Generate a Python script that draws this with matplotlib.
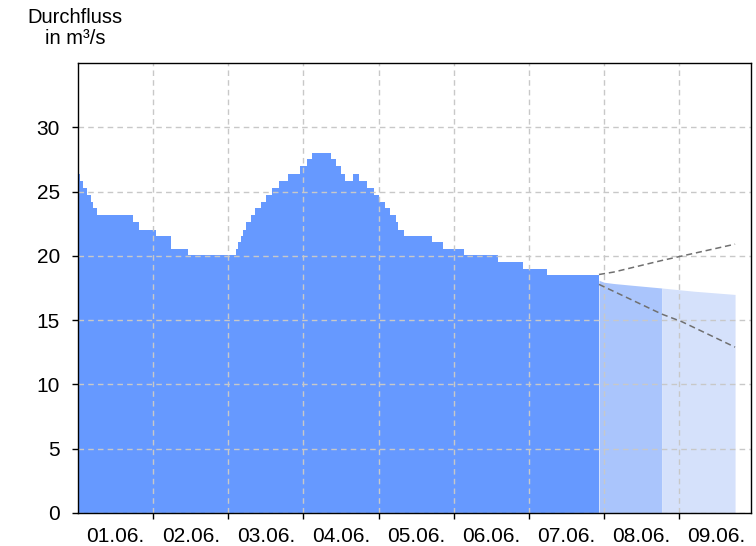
import numpy as np
import matplotlib
matplotlib.use("Agg")
import matplotlib.pyplot as plt

plt.rcParams["font.family"] = ["Liberation Sans", "DejaVu Sans"]

# observed discharge (m³/s), step series; time in days since 01.06. 00:00
obs_t = [0.0, 0.027, 0.07, 0.124, 0.169, 0.204, 0.249, 0.736, 0.81, 1.04,
         1.238, 1.464, 2.103, 2.133, 2.169, 2.20, 2.236, 2.298, 2.356, 2.431,
         2.498, 2.578, 2.68, 2.80, 2.954, 3.052, 3.118, 3.363, 3.434, 3.496,
         3.553, 3.656, 3.744, 3.85, 3.939, 4.01, 4.086, 4.152, 4.232, 4.263,
         4.343, 4.707, 4.854, 5.141, 5.585, 5.918, 6.238, 6.934]
obs_q = [26.4, 25.8, 25.25, 24.7, 24.2, 23.7, 23.15, 22.6, 22.05, 21.55,
         20.55, 20.05, 20.55, 21.05, 21.55, 22.05, 22.6, 23.15, 23.7, 24.2,
         24.7, 25.25, 25.8, 26.4, 27.0, 27.5, 28.0, 27.5, 27.0, 26.4,
         25.8, 26.4, 25.8, 25.25, 24.7, 24.2, 23.7, 23.15, 22.6, 22.05,
         21.55, 21.05, 20.55, 20.05, 19.5, 19.0, 18.5, 18.5]

# forecast (two horizons) and its upper / lower bounds
fc1_t = [6.934, 7.0, 7.13, 7.4, 7.77]
fc1_q = [18.1, 17.95, 17.85, 17.7, 17.5]
fc2_t = [7.77, 8.2, 8.745]
fc2_q = [17.5, 17.25, 17.0]
up_t = [6.934, 7.13, 7.77, 8.745]
up_q = [18.55, 18.74, 19.64, 20.91]
lo_t = [6.934, 7.77, 8.04, 8.745]
lo_q = [17.78, 15.47, 14.87, 12.9]

day_labels = ["01.06.", "02.06.", "03.06.", "04.06.", "05.06.",
              "06.06.", "07.06.", "08.06.", "09.06."]

fig = plt.figure(figsize=(7.56, 5.46), dpi=100)
ax = fig.add_axes([78 / 756, 33 / 546, 673 / 756, 450 / 546])

ax.fill_between(obs_t, obs_q, 0, step="post", color="#6699ff", lw=0, zorder=1)
ax.fill_between(fc1_t, fc1_q, 0, color="#aac5fc", lw=0, zorder=1)
ax.fill_between(fc2_t, fc2_q, 0, color="#d5e1fb", lw=0, zorder=1)
ax.plot(up_t, up_q, color="#707070", lw=1.1, dashes=(4, 2.5), zorder=3)
ax.plot(lo_t, lo_q, color="#707070", lw=1.1, dashes=(4, 2.5), zorder=3)

ax.set_xlim(0, 8.957)
ax.set_ylim(0, 35)
ax.set_yticks(range(0, 35, 5))
ax.set_xticks(range(1, 9))
ax.set_xticks(np.arange(len(day_labels)) + 0.5, minor=True)
ax.set_xticklabels([], minor=False)
ax.set_xticklabels(day_labels, minor=True)
ax.tick_params(axis="x", which="major", length=4, width=1, direction="out")
ax.tick_params(axis="x", which="minor", length=0, pad=10, labelsize=15)
ax.tick_params(axis="y", length=4, width=1, direction="out", pad=9, labelsize=15)

ax.grid(True, which="major", color="#c8c8c8", ls=(0, (4, 3)), lw=1, zorder=2)
ax.set_axisbelow(False)
for s in ax.spines.values():
    s.set_linewidth(1)
    s.set_zorder(4)

fig.text(75 / 756, 1 - 8 / 546, "Durchfluss\nin m³/s", ha="center", va="top",
         fontsize=14.5, linespacing=1.1)

fig.savefig("out.png", dpi=100)
